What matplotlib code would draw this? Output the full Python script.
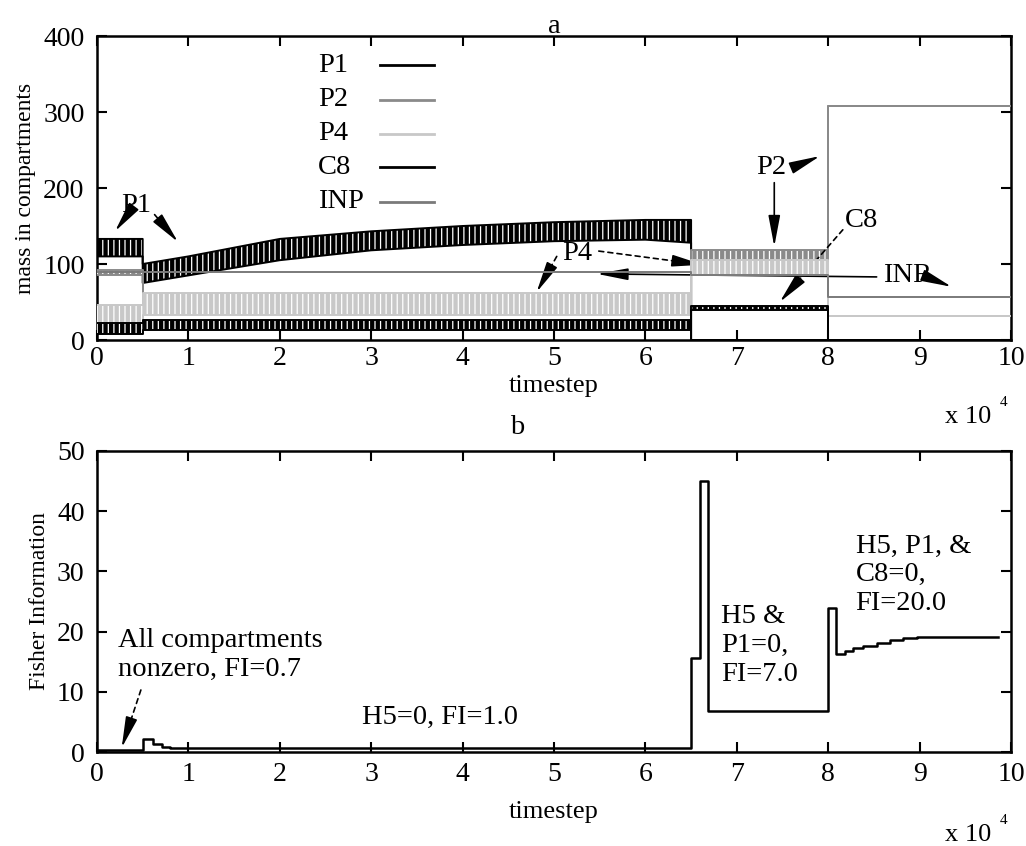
import matplotlib
matplotlib.use("Agg")
import numpy as np
import matplotlib.pyplot as plt
from matplotlib.lines import Line2D

# ---------------- data ----------------
# panel a : oscillating series given by their lower / upper envelope
t_p1 = [0, 5000, 5000, 10000, 20000, 30000, 40000, 50000, 60000, 65000, 65000, 100000]
p1_lo = [110, 110, 75, 85, 105, 118, 125, 130, 132, 128, 0, 0]
p1_hi = [133, 133, 100, 110, 133, 143, 150, 155, 158, 158, 0, 0]

t_seg = [0, 5000, 5000, 65000, 65000, 80000, 80000, 100000]
p2_lo = [86, 86, 44, 44, 104, 104, 308, 308]
p2_hi = [92, 92, 50, 50, 118, 118, 308, 308]
p4_lo = [20, 20, 33, 33, 86, 86, 32, 32]
p4_hi = [46, 46, 62, 62, 105, 105, 32, 32]
c8_lo = [8, 8, 13, 13, 40, 40, 0, 0]
c8_hi = [22, 22, 26, 26, 45, 45, 0, 0]

t_inp = [0, 65000, 65000, 80000, 80000, 100000]
inp_v = [90, 90, 85, 85, 57, 57]

series_names = ["P1", "P2", "P4", "C8", "INP"]
series_colors = ["black", "#8a8a8a", "#c8c8c8", "black", "#7a7a7a"]

# panel b : Fisher information (step function)
fi_t = [0, 5000, 6100, 7100, 8000, 65000, 66000, 66900, 80000, 80900,
        81800, 82700, 83800, 85300, 86800, 88200, 89700, 98600]
fi_v = [0.4, 2.2, 1.3, 0.9, 0.6, 15.6, 45.0, 6.8, 24.0, 16.3,
        16.8, 17.3, 17.6, 18.1, 18.6, 18.9, 19.1, 19.1]

xticks = [0, 10000, 20000, 30000, 40000, 50000, 60000, 70000, 80000, 90000, 100000]
xticklabels = ["0", "1", "2", "3", "4", "5", "6", "7", "8", "9", "10"]
yticks_a = [0, 100, 200, 300, 400]
yticks_b = [0, 10, 20, 30, 40, 50]

# ---------------- style ----------------
SERIF = "Liberation Serif"
plt.rcParams["font.family"] = SERIF
plt.rcParams["hatch.linewidth"] = 0.9
TICK_FS = 20
TXT_FS = 20.5

W, H = 1026, 846
fig = plt.figure(figsize=(W / 100, H / 100), dpi=100)


def px_axes(l, t, r, b):
    return fig.add_axes([l / W, 1 - b / H, (r - l) / W, (b - t) / H])


axA = px_axes(97, 36, 1011, 340)
axB = px_axes(97, 451, 1011, 752)

for ax in (axA, axB):
    for s in ax.spines.values():
        s.set_linewidth(1.8)
    ax.tick_params(direction="in", length=7, width=1.5, top=True, right=True,
                   labelsize=TICK_FS)
    ax.tick_params(axis="y", pad=9)
    ax.set_xlim(0, 100000)
    ax.set_xticks(xticks)
    ax.set_xticklabels(xticklabels)

axA.tick_params(axis="x", pad=4)
axB.tick_params(axis="x", pad=7)
axA.set_xlabel("timestep", fontsize=19, labelpad=3)
axB.set_xlabel("timestep", fontsize=19, labelpad=10)

# ---------------- panel a ----------------
axA.set_ylim(0, 400)
axA.set_yticks(yticks_a)
axA.set_yticklabels([str(v) for v in yticks_a])
axA.set_ylabel("mass in compartments", fontsize=17, labelpad=5)

bands = [(t_p1, p1_lo, p1_hi), (t_seg, p2_lo, p2_hi), (t_seg, p4_lo, p4_hi),
         (t_seg, c8_lo, c8_hi)]
for z, ((tt, lo, hi), col) in enumerate(zip(bands, series_colors[:4])):
    axA.fill_between(tt, lo, hi, facecolor=col, edgecolor="white", hatch="|||",
                     linewidth=0, zorder=2 + z)
    axA.plot(tt, hi, color=col, lw=1.4, zorder=2 + z)
    axA.plot(tt, lo, color=col, lw=1.4, zorder=2 + z)
axA.plot(t_inp, inp_v, color=series_colors[4], lw=1.4, zorder=7)

# legend: labels left-aligned, line sample to their right (as in the original)
leg_text_x = (318 - 97) / 914
leg_line_x0 = (380 - 97) / 914
leg_line_x1 = (434 - 97) / 914
leg_rows_px = [65, 100, 134, 167, 202]
for name, col, ypx in zip(series_names, series_colors, leg_rows_px):
    yax = (340 - ypx) / 304
    axA.text(leg_text_x, yax, name, transform=axA.transAxes, fontsize=TXT_FS,
             ha="left", va="center", zorder=20)
    axA.add_line(Line2D([leg_line_x0, leg_line_x1], [yax, yax], color=col, lw=2,
                        transform=axA.transAxes, zorder=20))

axA.set_title("a", fontsize=TXT_FS, pad=2)

HEAD = dict(arrowstyle="-|>,head_length=0.95,head_width=0.18", color="black",
            lw=1.2, mutation_scale=20, shrinkA=0, shrinkB=0)


def arrow(ax, tip, start, dashed=False):
    if not dashed:
        ax.annotate("", xy=tip, xytext=start, arrowprops=HEAD)
        return
    ax.annotate("", xy=tip, xytext=start,
                arrowprops=dict(arrowstyle="-", color="black", lw=1.2,
                                linestyle=(0, (3, 2.5)), shrinkA=0, shrinkB=12))
    p0 = ax.transData.transform(start)
    p1 = ax.transData.transform(tip)
    d = (p1 - p0) / np.hypot(*(p1 - p0))
    mid = ax.transData.inverted().transform(p1 - d * 20)
    ax.annotate("", xy=tip, xytext=tuple(mid), arrowprops=HEAD)


txt_kw = dict(fontsize=TXT_FS, ha="center", va="center", zorder=20)
axA.text(4300, 177, "P1", **txt_kw)
arrow(axA, (1970, 143), (3100, 161))
arrow(axA, (8860, 129), (6300, 165), dashed=True)

axA.text(52500, 114, "P4", **txt_kw)
arrow(axA, (48100, 63), (50300, 110), dashed=True)
arrow(axA, (66300, 99), (54900, 117), dashed=True)

axA.text(88700, 85, "INR", **txt_kw)
arrow(axA, (54700, 87), (85300, 83))
arrow(axA, (93500, 70), (91400, 80))

axA.text(73800, 227, "P2", **txt_kw)
arrow(axA, (74100, 123), (74100, 207))
arrow(axA, (79100, 242), (76300, 228), dashed=True)

axA.text(83600, 157, "C8", **txt_kw)
arrow(axA, (74700, 50), (81600, 145), dashed=True)

# ---------------- panel b ----------------
axB.step(fi_t, fi_v, where="post", color="black", lw=1.8, zorder=5)
axB.set_ylim(0, 50)
axB.set_yticks(yticks_b)
axB.set_yticklabels([str(v) for v in yticks_b])
axB.set_ylabel("Fisher Information", fontsize=17, labelpad=5)
axB.set_title("b", fontsize=TXT_FS, pad=12, x=0.46)

bkw = dict(fontsize=TXT_FS, ha="left", linespacing=1.2, zorder=20)
axB.text(2300, 20.6, "All compartments\nnonzero, FI=0.7", va="top", **bkw)
arrow(axB, (2700, 0.7), (4800, 10.3), dashed=True)
axB.text(29000, 5.8, "H5=0, FI=1.0", va="center", **bkw)
axB.text(68300, 24.6, "H5 &\nP1=0,\nFI=7.0", va="top", **bkw)
axB.text(83000, 36.3, "H5, P1, &\nC8=0,\nFI=20.0", va="top", **bkw)

# multiplier labels
for yb, ys in ((417, 402), (835, 820)):
    fig.text(968 / W, 1 - yb / H, "x 10", fontsize=19, ha="center", va="center")
    fig.text(1004 / W, 1 - ys / H, "4", fontsize=11, ha="center", va="center")

fig.savefig("out.png", dpi=100)
